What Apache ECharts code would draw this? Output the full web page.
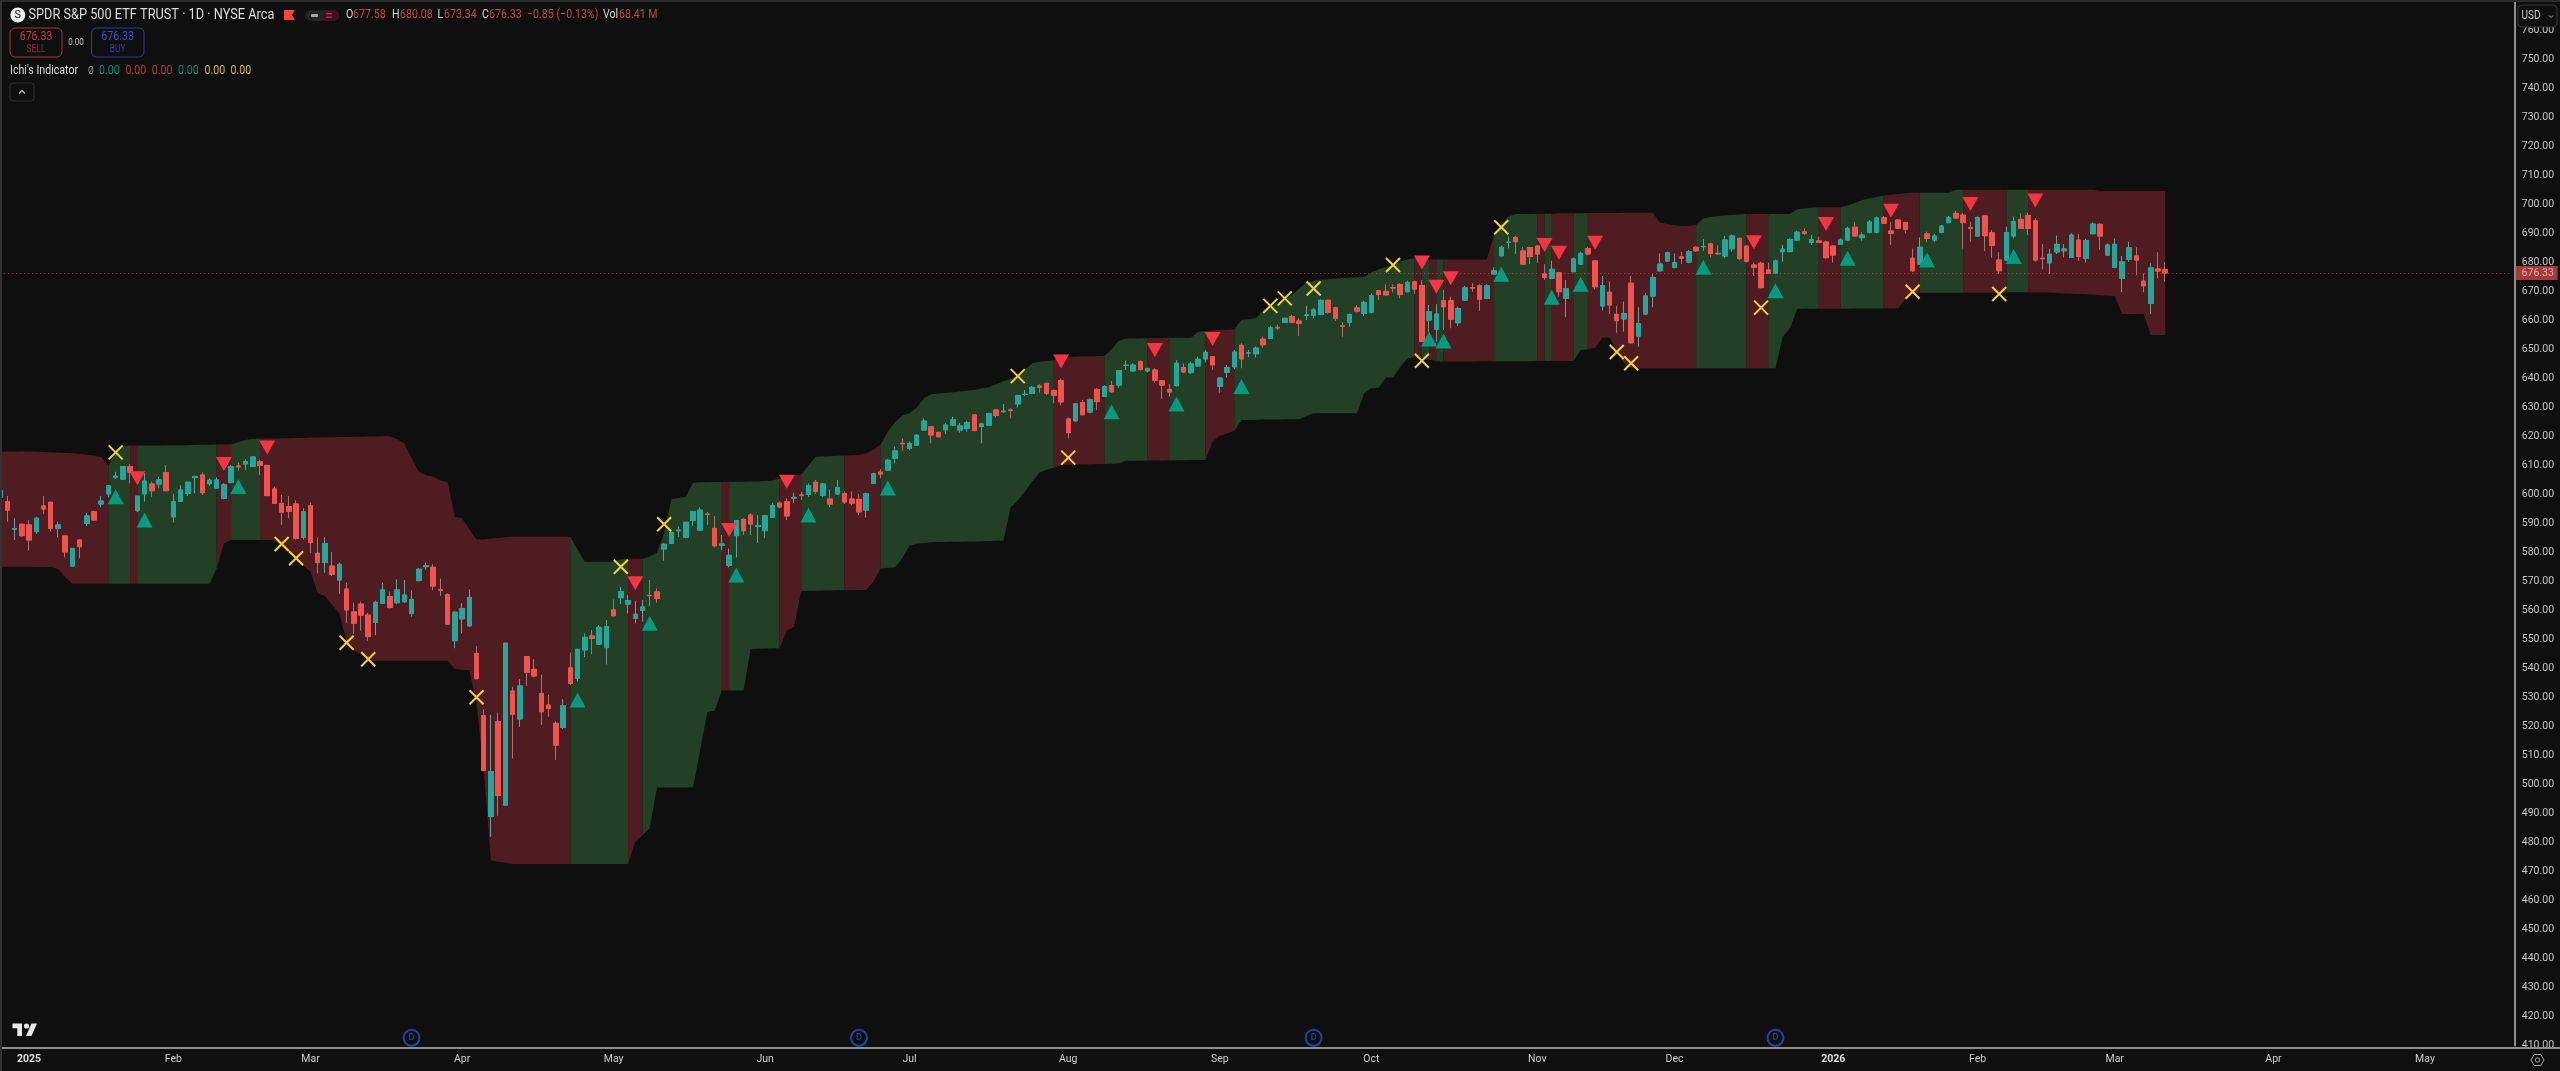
<!DOCTYPE html>
<html><head><meta charset="utf-8"><title>SPY</title>
<style>html,body{margin:0;padding:0;background:#0f0f0f;overflow:hidden}#c{width:2560px;height:1071px}</style>
<script src="https://cdn.jsdelivr.net/npm/echarts@6/dist/echarts.min.js"></script>
</head><body><div id="c"></div>
<script>
const opens=[
599,597.5,588,589.7,589.5,587.2,596,597.3,588.3,585.7,
575.3,584.3,590,594,596.7,600.2,605.9,605.3,609.6,594.4,
600.2,603.6,603.6,607.5,592.3,597.6,600.3,605.8,606.7,603.7,
602.2,598.7,604.2,609.8,610.5,609.7,611.3,610,601.9,596.9,
595.8,596.7,585.2,596.1,579.7,576.5,575.3,570.5,567.4,559.5,
562.2,558.4,555.9,562.5,564.8,562.7,563,559,570.3,575.1,
574.9,567.2,565.4,549.6,557.1,554.7,545.2,523.7,489,521.7,
492.9,532.2,522.6,544.1,539.7,531.4,527.4,521.1,519.7,540.2,
536.6,546.4,551.2,548.4,547.2,560.2,564.4,562.2,557.3,560,
565.2,566.4,581.2,583.1,587.5,585.2,591,587.7,593.2,588.3,
582.5,575.5,585.8,591.4,592.9,589,587.5,592.1,597,597.5,
598.7,599.8,600,604.2,599.7,598.4,600.2,600.2,598.4,598.3,
594.6,603.8,607.7,608.4,612.5,617.6,615.9,617,622.2,623.3,
621.4,622.3,623.9,622.2,622.7,627.4,623.4,623.9,629.1,628.5,
629.1,631.2,634.5,634.9,637.4,638.3,635.8,639.2,626,625.4,
631.7,628.4,636.2,633.8,637.5,637.7,644.5,642.6,645.8,642.6,
642.9,639.2,636.2,637.5,643.8,642,644.3,646.7,647.5,637.2,
642.1,644,651.4,648.8,648.5,653.5,653.8,657.6,659.3,661.3,
659.8,661.7,661.7,662,666.9,664.4,658.1,659.3,664.3,662.4,
662.8,670.2,670,671.3,672.4,669.9,673.3,672,660.1,656.9,
666.8,666.8,659.2,667,671.3,671.9,667.6,676,682.3,686.9,
688.6,683.9,685.1,685.6,676,674.5,676.4,667.6,676.8,679.4,
684.7,680.5,665,669.7,662.1,660.5,672.8,654.6,662.2,668.4,
677.1,680.5,678.3,681.9,680.1,685.2,685.4,686.4,683.1,682.2,
684.7,688.3,685.6,679.1,679.7,677.4,676.3,683.7,683.7,687.7,
690.5,686.9,687.4,687,685.6,686.2,687.7,692.1,688.5,690.4,
690.4,695.4,690.8,694.6,693.7,681.4,679.4,689.8,687.7,690.4,
693.7,696.9,696.3,691.9,689.1,696,690.2,680.8,680.8,689.1,
694.8,696.2,694.3,681.4,679.8,683.6,684,681.7,687.7,681.4,
689.9,693.1,682.5,678.3,674.5,681,682.2,673.5,665.9,677.7,
677.58];
const closes=[
601.3,594.6,588.2,585.8,584.3,591.8,595,588.3,589.5,580.2,
581.4,582,592.6,591.2,597.7,603,606.3,609.6,607.7,599.4,
604.6,601.3,605,601.3,597.5,601.5,604.2,606.2,600.6,604.9,
605,603.3,609.6,609.5,611.3,612.9,610,599.6,597,593.9,
594.2,584.8,594,583.4,576.5,583.1,572.4,575.9,560.2,555.6,
558.4,551,562.8,567.1,561,567.1,565.3,563.8,574.2,575.4,
568.4,567,555.3,559.4,560.7,564.5,536.5,504.8,504.4,496.2,
548.7,524.2,534,538.7,537.4,525.1,526.2,513.6,527.2,534.9,
546.6,550.7,550.4,554.2,554.4,558.2,566.5,563.4,558.7,561.2,
565.1,564.1,582.8,586.9,587.7,590.4,594.1,594.6,593.1,582.3,
582.9,579,591,587.5,589.8,589.3,592.6,596.2,595.7,592.6,
599,599.7,603,601,603.6,596.7,602.4,597.4,597,594,
600.2,607.1,607.05,611.8,615,617.5,617.6,620.4,625.3,620.5,
619.9,623.9,625.7,623.6,624.7,622,624.3,627.9,627.2,628.7,
629,634.1,634.5,636.9,636.9,634.9,634.1,631.9,621.3,631.2,
627.5,632.6,632,637.2,635.4,642.7,644.5,644.6,643.1,643.3,
639.4,637.7,635.3,645.2,642.2,645,646.6,649,644.7,640.1,
643.7,649.1,646.7,648.8,650.4,651.6,657.5,657.4,660.7,659.4,
659,661.9,663.6,666.9,662.8,660.7,658,662,663.2,666.2,
668.5,668.9,668.8,671.2,668.9,673.1,670.8,652.7,663,662.2,
664.7,660.4,664.1,671.2,671.2,667.3,671.9,677.1,685.2,686.9,
687.1,679.4,682,682.9,674.8,677.6,669.9,670.9,681.2,683.1,
682.9,671.6,672,665.3,659.9,662.4,652.3,658.9,668.4,674.8,
679.4,683.3,679.9,681.4,683.7,684,685.5,683.1,683,687.7,
689.1,681.3,680.4,678.3,671.3,676.2,680.5,684.6,687.9,690.4,
690,687.9,686.9,681.6,682.5,687.7,691.7,689.1,689.4,693.9,
695.3,693.5,690,691.8,691.4,677.1,685.2,688.3,689.1,692.5,
695.5,695.3,693.7,691.8,695.5,689.2,685.8,677.1,690.3,694,
691.7,691.7,680.8,681.3,682.8,686.2,684.6,689.4,682,687.5,
693.2,689.1,686,686.2,680.2,685,680.8,671.9,678.1,677,
676.33];
const highs=[
601.8,599.5,591.8,590,591.2,592.3,599.5,597.5,590.6,585.7,
581.5,584.5,593.7,594.4,599.5,603.2,607.8,609.8,610.5,599.5,
607.3,604.4,606.1,610.2,600.2,603.2,604.4,606.5,607.8,605.5,
605.9,603.8,610.2,611,612.1,613.1,611.9,610.2,602.7,599.8,
599.5,598,595.2,597.2,585.2,585.2,580.2,576.5,569.6,562.7,
563,559.2,563.4,569.6,566.5,570.7,570.5,567,574.6,576.5,
576,571,565.9,559.7,562.5,567.3,547.8,525.9,524,524.8,
548.7,533.7,536.3,544.1,543.2,537.8,530.9,521.7,529.4,545.5,
546.8,552.1,553.3,555,556.7,563.8,568.2,565.3,563.4,563.6,
570.5,567.6,583.1,587.2,588.9,590.6,594.4,595.6,594,592.6,
586,581.4,591.2,591.8,593.5,592.9,593,597,597.5,598.7,
600.6,601,603.8,605,604,601.8,605,601,601,600.2,
600.6,607.5,608.8,612.1,616.5,619.3,618.2,620.7,626.2,623.6,
621.6,624.7,626.8,624.7,625.4,627.7,624.7,628.2,629.3,631.2,
629.7,634.3,636,637.4,638,638.5,636.2,639.9,626.5,631.4,
632.6,633.1,636.6,637.7,639.1,642.9,646.2,645.2,646.1,643.7,
643.5,639.4,638,646.3,645.2,645.8,647.5,649.8,647.7,640.4,
644.6,649.8,652.1,649.8,651,654.4,658.1,658.6,661,661.9,
660.7,665,664.2,667.2,667.2,664.7,659.3,662.4,665.3,666.7,
669.3,670.5,672.4,672.4,672.8,673.7,673.7,673.9,665.3,665.6,
670.5,668.2,664.7,671.9,672.8,672.5,672.5,678.3,685.7,688.9,
689.1,685.4,685.4,686,679.4,680.6,676.8,673.9,681.7,683.7,
685.4,680.8,675.3,673.4,665,666.5,675.3,664.5,669.3,676,
683.1,683.7,683.1,683.7,684.3,685.6,688,686.8,686,689.1,
689.6,688.6,685.9,679.9,680.2,679.9,681,686,688.3,690.9,
691.7,689.4,688.9,687.5,686,688.3,692.3,694,690.4,694.6,
695.8,696,694,694.8,694,684.8,688.6,690.6,689.8,692.9,
696,697.8,696.9,694,695.8,696.4,691.2,683.5,692.3,695.8,
696.9,697.1,695.2,686.3,684.6,689.2,686.3,690,689.8,688.1,
693.8,693.5,686.5,688.3,682.2,687.1,685.2,676.2,679.7,683.5,
680.08];
const lows=[
598.5,590.6,584.3,585.4,580.6,586.4,593.2,587.2,585.2,578.3,
575.1,578,589.1,591,595.6,599,605.3,605.2,603.8,594,
597.5,599,602.1,601.1,590.3,597.5,599.5,600.4,599.8,602.9,
602.1,598.3,603.8,608.2,608.4,609.6,606.7,599.5,596.7,589.5,
591.8,584.5,584.5,579.9,572.8,573,571.9,565.7,555.6,551.9,
553,549.6,551.5,562.2,560.7,562.2,562.6,557.9,570,574,
567,565,555,547,552.1,554.4,536.5,504.8,482,489.2,
492.9,509,519.9,534,536.9,520.5,523.4,508.5,519.2,534.3,
535.5,543.9,545,548.1,541.4,557.9,562.2,559,555.6,556.1,
561.5,562.7,577.2,582.9,585.4,584.9,589.2,587.5,589.5,581.7,
580.8,574.9,578.3,586,586,583.2,584.9,592.1,595.2,591.2,
597,598.1,599.2,600.2,599.2,595.6,599.9,596.7,596.4,592.9,
592,603.6,605.6,608.2,610.7,615.1,615.3,616.8,622,617.6,
619.7,620.8,623.6,621.3,621.6,621.9,617.6,623.8,626.6,628.2,
626.2,630,634,634.6,635.1,634.3,631.4,630.7,619.3,625.1,
627.2,628,629.1,633.7,635,636.8,642.9,642.3,642.7,642.1,
638.5,632.9,633.7,637.2,642,641.5,644,645.5,642.9,635.1,
640.3,643.2,643.5,647.3,647.2,650.6,653.6,656.7,659.2,659.2,
654.6,660.1,660.7,661.8,662.2,659.8,654.4,657.8,662.7,661.5,
662.4,667,668.5,669.7,667.6,669.7,669.1,652.6,656.1,652.7,
656.7,657.3,658.1,666.8,669.9,663.3,667.3,675.9,682,684.8,
682.9,679.2,679.4,679.7,673.9,674.2,668.2,661.1,676.6,679.1,
682.5,670.7,663.4,662.2,655.8,656.1,652.1,650.9,661.9,664.5,
676.8,680.2,677.9,679.4,679.7,683.7,684,681.7,682.5,681.4,
683.7,680.8,679.9,675.3,671,676,676,680.2,683.5,687.5,
689.4,686,686.6,681.3,679.9,686,687.5,688.9,687.5,690,
690,693.2,686,691.6,690,676.8,679.1,687.1,687.1,690,
693.5,695,684.8,687.1,688.9,683.9,681.6,676,680.5,688.3,
691.5,689.4,680.2,677.6,676,682.9,681.7,681.5,680.5,679.9,
689.6,684.3,682.2,678,669.7,680.2,675.6,669.7,662.2,674.5,
673.34];
const cloudUpper=[
614.7,614.7,614.7,614.8,614.8,614.7,614.6,614.5,614.4,614.3,
614.2,613.9,613.7,613.4,612.8,610.1,614.5,616.5,616.9,616.9,
616.9,616.9,616.9,617,617,617,617,617.1,617.1,617.1,
617.2,617.2,617.3,618,618.8,619.2,619.3,619.3,619.3,619.4,
619.4,619.5,619.5,619.6,619.6,619.7,619.7,619.8,619.8,619.9,
619.9,620,620,620.1,620.1,619,617.6,612.5,607.8,606.6,
606.1,604.8,604.3,592.3,591.8,588,584.5,584.5,584.8,585,
585.2,585.4,585.4,585.4,585.4,585.4,585.4,585.4,585.4,585.4,
581,576.8,576.8,576.8,576.8,576.8,577.6,577.8,577.8,577.8,
578.6,579.9,586.6,598.3,598.8,599.2,604,604.2,604.2,604.3,
604.3,604.4,604.4,604.4,604.5,604.5,604.6,604.8,605.5,605.5,
606.6,606.8,610,613,613.1,613.2,613.3,613.4,613.5,613.6,
614.2,615.5,617.2,621.6,625,627.2,628,630,633.2,634.5,
634.8,635,635.2,635.5,635.8,636,636.5,637,638,639,
639.7,641,643,645.2,645.7,646,646.3,647.5,647.5,647.5,
647.6,647.6,647.7,647.7,650,653,653.8,653.8,653.8,653.9,
653.9,653.9,654,654,654,654,656.1,656.3,656.5,656.7,
656.8,656.9,660.1,660.4,660.7,663.6,664.5,666,667.4,668.7,
671,673,673.7,674.1,674.2,674.4,674.6,674.8,674.9,675,
676.5,677.6,678.3,679.3,680.2,681,681.4,681.1,681,681,
681,681,681,681,681,681,681,689.4,693,695.8,
696.7,696.7,696.7,696.8,696.8,696.8,696.9,696.9,696.9,696.9,
697,697,697,697,697,697.1,697.1,697.1,697.1,697.1,
693.7,693.2,692.8,692.5,692.6,692.9,695.2,695.6,696,696.2,
696.4,696.5,696.7,696.7,696.7,696.7,696.7,696.7,696.7,698.3,
698.6,698.8,699,699,699,699,699.6,700.5,701.5,702,
702.5,703,703.3,703.6,703.8,704,704,704,704,704,
704,705,705,705,705,705,705,705,705,705,
705,705,705,705,705,705,705,705,705,705,
705,704.6,704.6,704.6,704.6,704.6,704.6,704.6,704.6,704.6,
704.6];
const cloudLower=[
575.1,575.1,575.1,575.1,575.1,575,575,575,574.3,571.5,
569.2,569.2,569.2,569.2,569.2,569.2,569.2,569.2,569.2,569.2,
569.2,569.2,569.2,569.2,569.2,569.2,569.2,569.2,569.2,569.2,
574.5,583.2,584.3,584.3,584.3,584.3,584.3,584.3,584.3,582,
580,578,575.3,573.4,565.9,565,562,559,549.3,546,
545.2,542.7,542.7,542.7,542.7,542.7,542.7,542.7,542.7,542.7,
542.7,542.7,542.7,539.8,539.6,539.5,528,505,473.8,473.4,
473,472.6,472.6,472.6,472.6,472.6,472.6,472.6,472.6,472.6,
472.6,472.6,472.6,472.6,472.6,472.6,472.6,472.6,480.3,482.5,
484.9,499,499,499,499,499,499,512,524.9,525.5,
532.4,532.4,532.4,532.4,546.7,546.8,546.9,547,547,553,
554.4,566.7,566.8,566.8,566.9,566.9,567,567,567,567.1,
567.1,570,574.5,574.7,574.9,578,582.3,583,583.3,583.5,
583.6,583.6,583.7,583.7,583.8,583.8,583.9,583.9,584,584,
595.5,598,601,604.5,607.5,608.5,609.2,610.2,610.2,610.3,
610.4,610.4,610.5,610.5,610.6,610.7,611.6,611.6,611.6,611.7,
611.7,611.7,611.8,611.8,611.8,611.9,611.9,611.9,618.2,620.2,
621,621.9,625.7,625.7,625.7,625.8,625.8,625.8,625.9,625.9,
625.9,627,628,628,628,628,628,628,628,634.9,
636.6,636.8,640.3,640.3,644,646.9,647.5,647.2,646.5,645.8,
645.8,645.8,645.8,645.8,645.8,645.9,645.9,645.9,645.9,645.9,
645.9,645.9,645.9,646,646,646,646,646,646,649.8,
650,650.6,654,654,649.8,645.2,643.5,643.5,643.5,643.5,
643.5,643.5,643.5,643.5,643.5,643.5,643.5,643.5,643.5,643.5,
643.5,643.5,643.5,643.5,643.5,643.5,643.5,654.4,657.3,663.9,
664,664,664,664,664,664,664,664.1,664.1,664.1,
664.1,664.2,664.2,664.2,667.3,669.3,669.5,669.5,669.5,669.5,
669.5,669.5,669.5,669.5,669.5,669.5,669.5,669.5,669.7,669.7,
669.7,669.7,669.6,669.6,669.5,669.4,669.3,669.2,669.1,669,
668.9,668.7,668.5,668.4,662.2,662.2,662.2,662.2,655,655,
655];
// the cloud changes colour at these candles; it starts red and alternates
const cloudBreaks=[15,18,19,30,32,36,79,87,89,100,101,108,111,117,122,146,153,159,162,167,171,196,197,198,199,200,207,213,214,215,218,220,235,242,245,252,255,261,266,272,278,281];
const crossIdx=[16,39,41,48,51,66,86,92,141,148,176,178,182,193,197,208,224,226,244,265,277];
const crossPrice=[614.5,582.9,578,548.9,543.2,530.1,575.1,589.7,640.8,612.7,665,667.6,671,679.1,646.1,692.1,649.1,645.2,664.4,669.9,669.1];
const upIdx=[16,20,33,80,90,102,112,123,154,163,172,198,200,208,215,219,236,246,256,267,279];
const upPrice=[599.2,591.2,602.7,529.1,555.6,572.2,592.9,602.2,628.5,631.2,637.2,653.6,652.9,675.9,668,672.5,678.3,670.2,681.4,680.8,682];
const downIdx=[19,31,37,88,101,109,147,160,168,197,199,201,214,216,221,243,253,262,273,282];
const downPrice=[605.6,610.5,616.2,569.4,587.7,604.4,645.8,649.8,653.6,680,671.6,674.5,686,683.3,686.8,686.9,693.2,697.8,700.1,701.3];
const dividendIdx=[57,119,182,246];
const dividendPrice=[412.7,412.7,412.7,412.7];
const tickIdx=[4,24,43,64,85,106,126,148,169,190,213,232,254,274,293,315,336];
const tickNames=['2025','Feb','Mar','Apr','May','Jun','Jul','Aug','Sep','Oct','Nov','Dec','2026','Feb','Mar','Apr','May'];
const lastPrice=676.33;

if(![opens,closes,highs,lows,cloudUpper,cloudLower].every(a=>a.length===301)) throw new Error('len '+[opens,closes,highs,lows,cloudUpper,cloudLower].map(a=>a.length));

const slotCount=349;
const categories=Array.from({length:slotCount},(_,i)=>String(i));
const BG='#0f0f0f',UP='#26a69a',DN='#ef5350',FONT='Roboto,sans-serif';
const chart=echarts.init(document.getElementById('c'),null,{renderer:'canvas',width:2560,height:1071});

// one row per run of candles that share a cloud colour: [first, last, isGreen]
const edges=[0].concat(cloudBreaks,[300]);
const cloudRuns=edges.slice(0,-1).map((s,k)=>[s,edges[k+1],k%2]);
const ohlc=opens.map((o,i)=>[o,closes[i],lows[i],highs[i]]);
const bodies=opens.map((o,i)=>[o,closes[i],Math.min(o,closes[i]),Math.max(o,closes[i])]);
const zip=(a,b)=>a.map((v,i)=>[v,b[i]]);

function txt(x,y,s,color,size,sx,center){return {type:'text',x,y,scaleX:sx||0.85,z:20,silent:true,style:{text:s,fill:color,font:(size||12.5)+'px '+FONT,verticalAlign:'middle',align:center?'center':'left'}};}
function box(x,y,w,h,r,fill,stroke,z){return {type:'rect',z:z||20,silent:true,shape:{x,y,width:w,height:h,r},style:{fill:fill||'transparent',stroke:stroke||null,lineWidth:stroke?1:0}};}
const RV='#c24448',W='#d8d8d8';
const graphic=[
 box(0,0,2560,2,0,'#2b2b2b',null,30),
 box(0,0,2,1071,0,'#333333',null,30),
 box(2516,1049,44,22,0,BG,null,8),
 box(2510,1047,50,2,0,'#8e8e8e',null,12),
 box(2518,5,39,22,4,BG,'#383838',12),
 txt(2521.5,16,'USD','#c8c8c8',12.5,0.8),
 {type:'polyline',z:20,silent:true,shape:{points:[[2549,15.5],[2551,17.5],[2553,15.5]]},style:{stroke:'#b0b0b0',lineWidth:1,fill:null}},
 // title row
 {type:'circle',z:20,silent:true,shape:{cx:17.8,cy:15,r:7.5},style:{fill:'#f0f0f0'}},
 txt(17.8,15,'S','#111',11,1,true),
 txt(28.5,15,'SPDR S&P 500 ETF TRUST · 1D · NYSE Arca','#dcdcdc',15,0.85),
 {type:'polygon',z:20,silent:true,shape:{points:[[284,10],[295,10],[292,15],[295,20],[284,20]]},style:{fill:'#f2453d'}},
 box(305,10,34,11,5.5,'#232323'),
 box(323,10,16,11,5.5,'#3f1020'),
 box(311,14,7,3,1,'#a8a8a8'),
 box(326,13,6,1.4,0,'#b83050'),box(326,16.5,6,1.4,0,'#b83050'),
 txt(346,15,'O',W),txt(353,15,'677.58',RV),
 txt(392,15,'H',W),txt(400,15,'680.08',RV),
 txt(437.5,15,'L',W),txt(444,15,'673.34',RV),
 txt(482,15,'C',W),txt(489,15,'676.33',RV),
 txt(527,15,'−0.85 (−0.13%)',RV),
 txt(603,15,'Vol',W),txt(619,15,'68.41 M',RV),
 // buy and sell boxes
 box(10,28,52,29,5,'transparent','#a8353b'),
 txt(36,37,'676.33','#c93c42',12.5,0.85,true),
 txt(36,49,'SELL','#8f2d33',10.5,0.8,true),
 txt(76,43,'0.00','#c0c0c0',9.5,0.85,true),
 box(91.5,28,52.5,29,5,'transparent','#2b3f9e'),
 txt(117.7,37,'676.33','#3553c8',12.5,0.85,true),
 txt(117.7,49,'BUY','#2a3f9e',10.5,0.8,true),
 // indicator row
 txt(10,71,"Ichi's Indicator",'#dcdcdc'),
 txt(88,71,'Ø','#9a9a9a',10,0.85),
 txt(99,71,'0.00','#0c8a76'),txt(125.4,71,'0.00','#b33a40'),txt(151.8,71,'0.00','#b33a40'),
 txt(178,71,'0.00','#0c8a76'),txt(204.5,71,'0.00','#d9b93e'),txt(230.4,71,'0.00','#d9b93e'),
 box(10,83,24,18,3,'transparent','#333333'),
 {type:'polyline',z:20,silent:true,shape:{points:[[19,93.5],[22,90.5],[25,93.5]]},style:{stroke:'#c0c0c0',lineWidth:1.3,fill:null}},
 // TradingView mark
 {type:'polygon',z:20,silent:true,shape:{points:[[12.5,1023.5],[22,1023.5],[22,1036],[17.3,1036],[17.3,1028.3],[12.5,1028.3]]},style:{fill:'#e8e8e8'}},
 {type:'polygon',z:20,silent:true,shape:{points:[[31.5,1023.5],[37,1023.5],[31.5,1036],[26,1036]]},style:{fill:'#e8e8e8'}},
 {type:'circle',z:20,silent:true,shape:{cx:26.5,cy:1026,r:2.6},style:{fill:'#e8e8e8'}},
 // settings hexagon
 {type:'polygon',z:20,silent:true,shape:{points:[[2531,1060],[2534.3,1054.5],[2540.7,1054.5],[2544,1060],[2540.7,1065.5],[2534.3,1065.5]]},style:{stroke:'#a8a8a8',lineWidth:1,fill:null}},
 {type:'circle',z:20,silent:true,shape:{cx:2537.5,cy:1060,r:2.2},style:{stroke:'#a8a8a8',lineWidth:1,fill:null}}
];

chart.setOption({
 animation:false,backgroundColor:BG,
 grid:{left:0.2,width:2511.4,top:1.3,height:1044.3,containLabel:false},
 xAxis:{type:'category',data:categories,boundaryGap:false,position:'bottom',offset:2.4,z:10,
  axisLine:{show:true,lineStyle:{color:'#8e8e8e',width:2}},axisTick:{show:false},splitLine:{show:false},
  axisLabel:{color:'#cfcfcf',fontFamily:FONT,fontSize:10.5,margin:6,hideOverlap:false,
   interval:(i)=>tickIdx.includes(i),
   formatter:(v,i)=>{const n=tickNames[tickIdx.indexOf(i)];return /^\d/.test(n)?'{b|'+n+'}':n;},
   rich:{b:{fontFamily:FONT,fontSize:10.5,fontWeight:'bold',color:'#e0e0e0'}}}},
 yAxis:{type:'value',position:'right',offset:3.2,min:410,max:770,interval:10,z:1,scale:false,
  axisLine:{show:true,onZero:false,lineStyle:{color:'#8e8e8e',width:2}},axisTick:{show:false},splitLine:{show:false},
  axisLabel:{color:'#c8c8c8',fontFamily:FONT,fontSize:10.5,margin:7,formatter:v=>v>=770?'':v.toFixed(2)}},
 graphic:{elements:graphic},
 series:[
  {type:'custom',name:'Cloud',z:1,silent:true,clip:true,data:cloudRuns,
   renderItem:(p,api)=>{
    const s=api.value(0),e=api.value(1),top=[],bot=[];
    for(let i=s;i<=e;i++){top.push(api.coord([i,cloudUpper[i]]));bot.unshift(api.coord([i,cloudLower[i]]));}
    return {type:'polygon',shape:{points:top.concat(bot)},style:{fill:api.value(2)?'#233f25':'#4f1c22'}};
   }},
  {type:'candlestick',name:'Wicks',z:2,silent:true,barWidth:5,data:ohlc,
   itemStyle:{color:UP,color0:DN,borderColor:'#6f9c97',borderColor0:'#a8746f',borderWidth:1},
   markLine:{silent:true,symbol:'none',animation:false,data:[{yAxis:lastPrice}],
    lineStyle:{color:'#ef5350',opacity:0.65,type:[1,3],width:1},
    label:{show:true,position:'end',distance:4,formatter:'676.33',color:'#ffe6e6',fontFamily:FONT,fontSize:10.5,backgroundColor:'#ef5350',padding:[2,6,1,6],width:30}}},
  {type:'candlestick',name:'SPY',z:3,silent:true,barWidth:5,data:bodies,
   itemStyle:{color:UP,color0:DN,borderColor:UP,borderColor0:DN,borderWidth:1}},
  {type:'scatter',name:'Sell',z:4,silent:true,symbol:'triangle',symbolSize:[16,14],symbolRotate:180,data:zip(downIdx,downPrice),itemStyle:{color:'#f23645',opacity:1}},
  {type:'scatter',name:'Buy',z:5,silent:true,symbol:'triangle',symbolSize:[16,15],data:zip(upIdx,upPrice),itemStyle:{color:'#089981',opacity:1}},
  {type:'scatter',name:'Cross',z:6,silent:true,symbol:'path://M0 0L10 10M10 0L0 10',symbolSize:14,data:zip(crossIdx,crossPrice),itemStyle:{color:'rgba(0,0,0,0)',borderColor:'#f2d245',borderWidth:2,opacity:1}},
  {type:'scatter',name:'Dividends',z:6,silent:true,symbol:'circle',symbolSize:16,data:zip(dividendIdx,dividendPrice),itemStyle:{color:'rgba(0,0,0,0)',borderColor:'#2443a8',borderWidth:2,opacity:1},
   label:{show:true,position:'inside',formatter:'D',color:'#2f4fb8',fontFamily:FONT,fontSize:9}}
 ]
});
</script></body></html>
